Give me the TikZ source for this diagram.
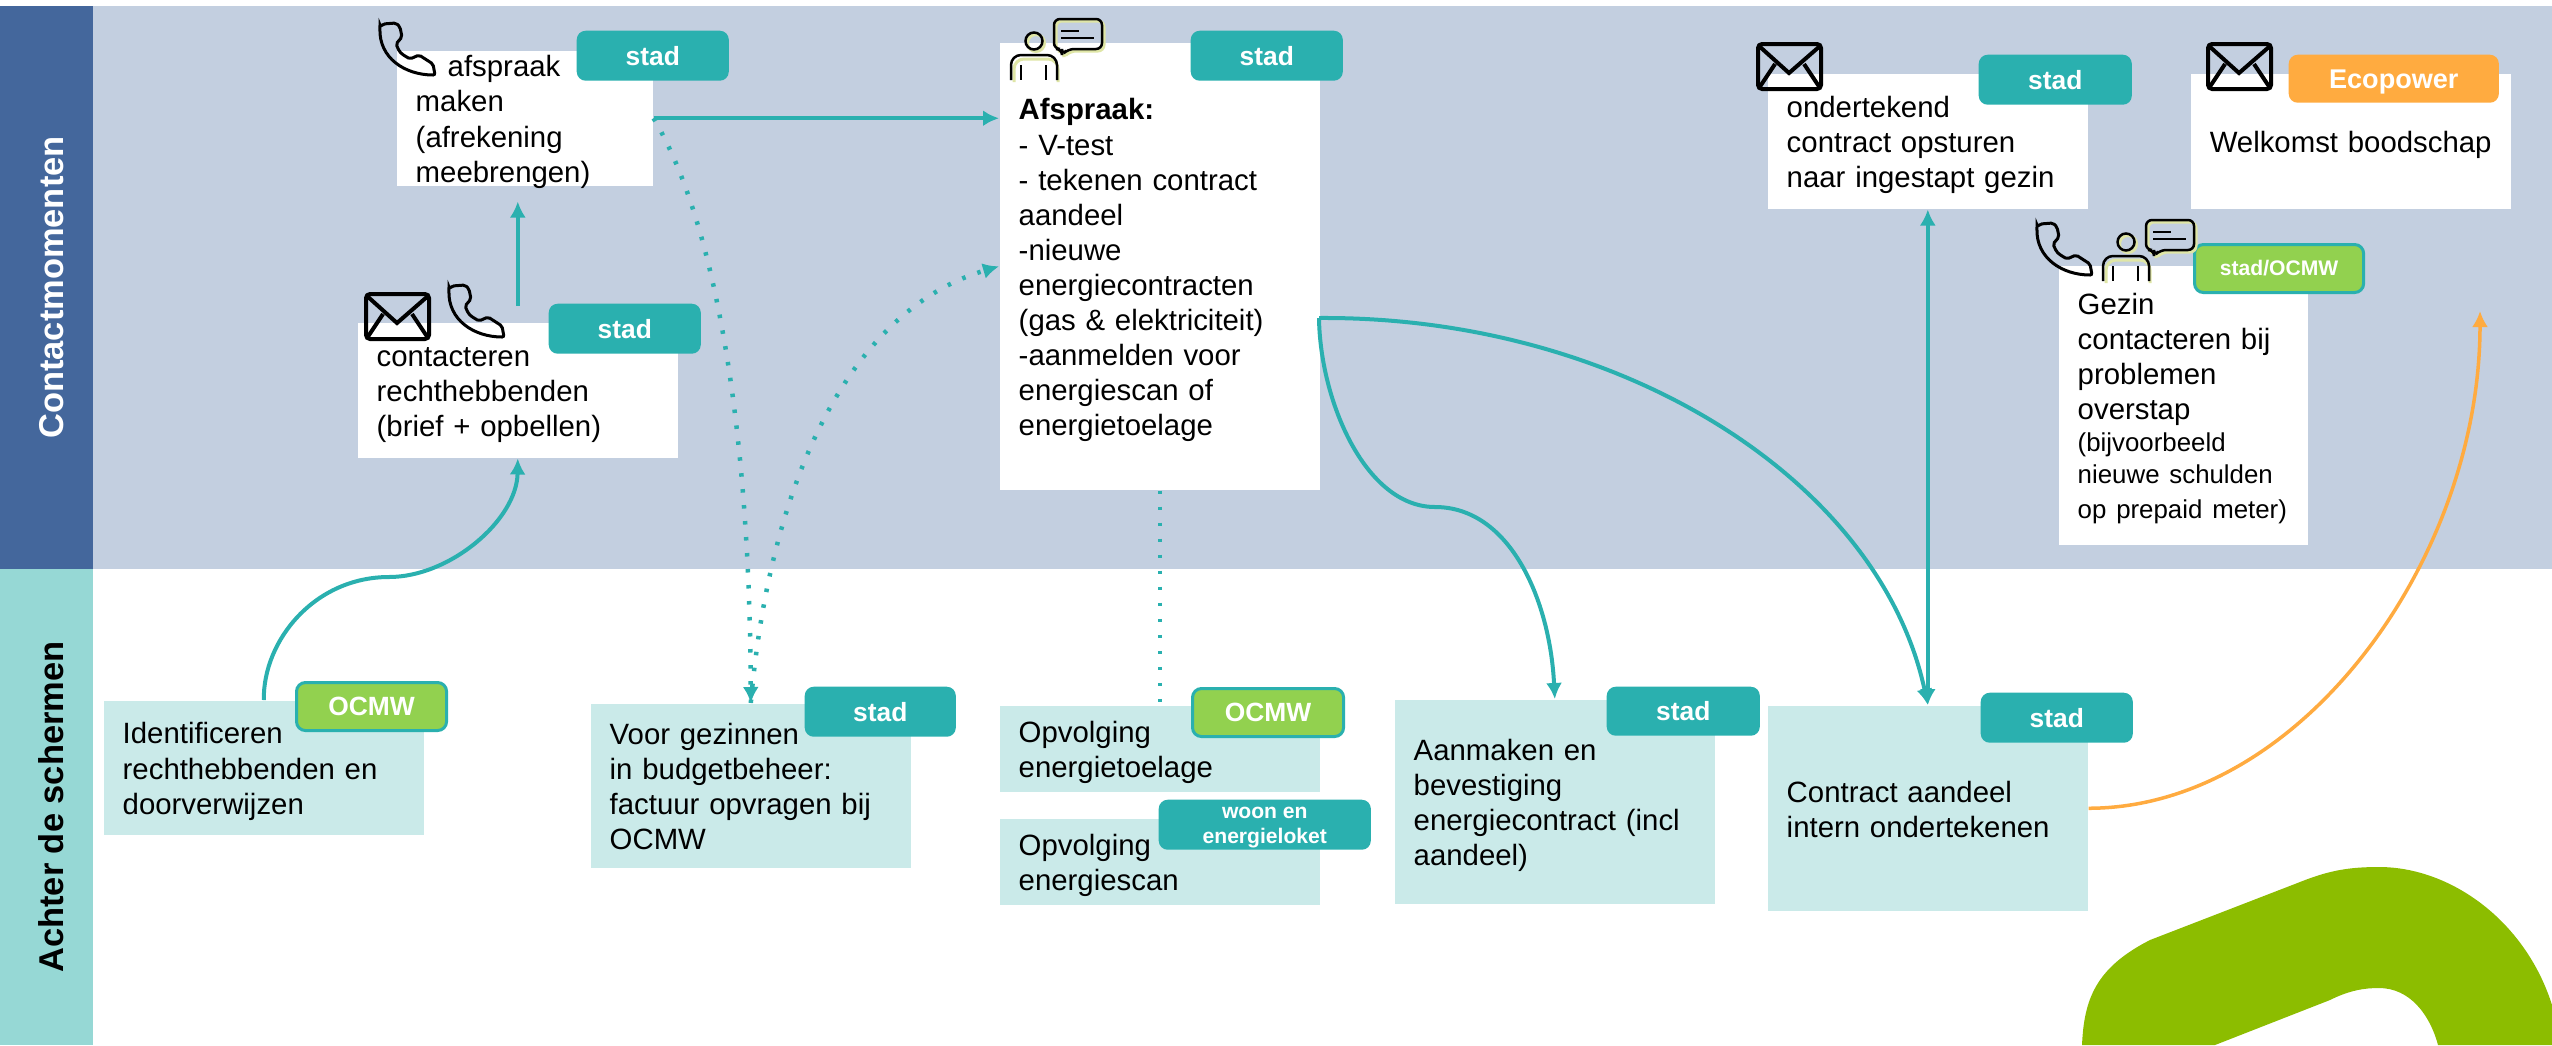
\documentclass[tikz,border=0pt]{standalone}
\usepackage{amsmath}
\usepackage{fontspec}
\setmainfont{Liberation Sans}
\usepackage{tikz}
\usetikzlibrary{calc,positioning,arrows.meta}

\definecolor{bandblue}{HTML}{44679C}
\definecolor{bandpale}{HTML}{C3CFE0}
\definecolor{bandteal}{HTML}{96D8D5}
\definecolor{cardteal}{HTML}{CAEAE9}
\definecolor{stadteal}{HTML}{2AB0AF}
\definecolor{ocmwgreen}{HTML}{92D14F}
\definecolor{ecoorange}{HTML}{FFAB40}
\definecolor{logogreen}{HTML}{8CBD00}
\definecolor{iconshade}{HTML}{DFE6A6}

\newcommand{\kleintje}{\fontsize{7.35pt}{9.1pt}\selectfont}

\tikzset{
	card/.style 2 args={anchor=north west,inner xsep=.19cm,inner ysep=-3pt,minimum width=#1cm,minimum height=#2cm,text width=#1cm-.38cm,align=left,font=\fontsize{8.35pt}{9.96pt}\selectfont,execute at begin node={\rule{0pt}{8.2pt}},execute at end node={\rule[-1.8pt]{0pt}{1.8pt}}},
	frontcard/.style 2 args={card={#1}{#2},fill=white},
	backcard/.style 2 args={card={#1}{#2},fill=cardteal},
	badge/.style 2 args={anchor=north west,inner sep=0pt,minimum width=#1cm,minimum height=#2cm,rounded corners=.09cm,align=center,text=white,font=\fontsize{7.5pt}{9pt}\selectfont\bfseries},
	stadbadge/.style 2 args={badge={#1}{#2},fill=stadteal},
	ocmwbadge/.style 2 args={badge={#1}{#2},fill=ocmwgreen,draw=stadteal,line width=.03cm},
	ecobadge/.style 2 args={badge={#1}{#2},fill=ecoorange},
	sideband/.style={rotate=90,inner sep=0pt,minimum height=.93cm,text height=9.6pt,text depth=0pt,font=\fontsize{9.8pt}{12pt}\selectfont\bfseries},
	flow/.style={-{Latex[length=.16cm,width=.16cm]},color=stadteal,line width=.04cm},
	dotflow/.style={flow,line width=.045cm,dash pattern=on .035cm off .125cm},
	mailicon/.pic={
		\draw[line width=.04cm,rounded corners=.04cm] (0,0) rectangle (63,45);
		\draw[line width=.04cm] (1,2) -- (31,29) -- (62,2) (17,20) -- (1,44) (46,20) -- (62,44);
	},
	phoneicon/.pic={
		\draw[line width=.03cm,rounded corners=.02cm] (0,4) -- (3,1) -- (16,0) -- (20,4) -- (22,14) -- (16,21) .. controls (20,30) .. (30,36) -- (39,32) -- (53,41) -- (55,52) .. controls (25,52) and (-1,35) .. (0,4) -- cycle;
	},
	talkicon/.pic={
		\begin{scope}[shift={(2,2)},color=iconshade,line width=.03cm]
			\draw (0,0) circle[radius=8.5];
			\draw[rounded corners=.1cm] (-22,39) -- (-22,16) -- (22,16) -- (22,39);
			\draw[rounded corners=.06cm] (20,-22) -- (68,-22) -- (68,8) -- (34,8) -- (28,14) -- (28,8) -- (20,8) -- cycle;
		\end{scope}
		\draw[line width=.025cm] (0,0) circle[radius=8.5];
		\draw[line width=.025cm,rounded corners=.1cm] (-23,39) -- (-23,14) -- (23,14) -- (23,39);
		\draw[line width=.025cm] (-13,24) -- (-13,39) (12,24) -- (12,39);
		\draw[line width=.025cm,rounded corners=.06cm] (20,-22) -- (68,-22) -- (68,8) -- (34,8) -- (28,14) -- (28,8) -- (20,8) -- cycle;
		\draw[line width=.025cm] (27,-10) -- (45,-10) (27,-3) -- (60,-3);
	},
}

\begin{document}
\begin{tikzpicture}[x=.01cm,y=-.01cm]
	\useasboundingbox (0,0) rectangle (2552,1045);

	\fill[bandpale] (93,6) rectangle (2552,569);
	\node[sideband,fill=bandblue,text=white,minimum width=5.63cm] (contactband) at (46.5,287.5) {Contactmomenten};
	\node[sideband,fill=bandteal,text=black,minimum width=4.76cm] (achterband) at (46.5,807) {Achter de schermen};

	\fill[logogreen] (2082,1045) .. controls (2084,1000) and (2095,968) .. (2150,940) -- (2300,882) .. controls (2330,870) and (2350,867) .. (2379,867) .. controls (2450,867) and (2525,920) .. (2552,1005) -- (2552,1045) -- (2438,1045) .. controls (2430,1015) and (2410,988) .. (2379,988) .. controls (2365,988) and (2350,990) .. (2330,1000) -- (2215,1045) -- cycle;

	\node[frontcard={2.56}{1.35}] (maken) at (396,50) {\hspace*{.32cm}afspraak\\maken\\(afrekening\\meebrengen)};
	\node[frontcard={3.2}{1.35}] (contacteren) at (357,322) {contacteren\\rechthebbenden\\(brief + opbellen)};
	\node[frontcard={3.2}{4.47}] (afspraak) at (999,42) {\textbf{Afspraak:}\\- V-test\\- tekenen contract\\aandeel\\-nieuwe\\energiecontracten\\(gas \& elektriciteit)\\-aanmelden voor\\energiescan of\\energietoelage};
	\node[frontcard={3.2}{1.35}] (ondertekend) at (1767,73) {ondertekend\\contract opsturen\\naar ingestapt gezin};
	\node[frontcard={3.2}{1.35}] (welkomst) at (2190,73) {\mbox{Welkomst boodschap}};
	\node[frontcard={2.49}{2.79}] (gezin) at (2058,265) {Gezin\\contacteren bij\\problemen\\overstap\par\kleintje (bijvoorbeeld\\nieuwe schulden\\op prepaid meter)};

	\node[backcard={3.2}{1.34}] (identificeren) at (103,700) {Identificeren\\rechthebbenden en\\doorverwijzen};
	\node[backcard={3.2}{1.64}] (voor) at (590,703) {Voor gezinnen\\in budgetbeheer:\\factuur opvragen bij\\OCMW};
	\node[backcard={3.2}{.86}] (toelage) at (999,705) {Opvolging\\energietoelage};
	\node[backcard={3.2}{.86}] (scan) at (999,818) {Opvolging\\energiescan};
	\node[backcard={3.2}{2.04}] (aanmaken) at (1394,699) {Aanmaken en\\bevestiging\\energiecontract (incl\\aandeel)};
	\node[backcard={3.2}{2.05}] (aandeel) at (1767,705) {Contract aandeel\\intern ondertekenen};

	\node[stadbadge={1.52}{.5}] (makenstad) at (576,30) {stad};
	\node[stadbadge={1.52}{.5}] (contacterenstad) at (548,303) {stad};
	\node[stadbadge={1.52}{.5}] (afspraakstad) at (1190,30) {stad};
	\node[stadbadge={1.53}{.5}] (ondertekendstad) at (1978,54) {stad};
	\node[ecobadge={2.1}{.48},text depth=0pt,font=\fontsize{7.7pt}{9pt}\selectfont\bfseries] (welkomsteco) at (2288,54) {Ecopower};
	\node[ocmwbadge={1.69}{.48},font=\fontsize{6pt}{7pt}\selectfont\bfseries] (gezinstad) at (2193,243) {stad/OCMW};
	\node[ocmwbadge={1.5}{.48}] (identificerenocmw) at (295,681) {OCMW};
	\node[stadbadge={1.51}{.5}] (voorstad) at (804,686) {stad};
	\node[ocmwbadge={1.51}{.48}] (toelageocmw) at (1191,687) {OCMW};
	\node[stadbadge={2.12}{.5},font=\fontsize{6pt}{7.1pt}\selectfont\bfseries] (scanloket) at (1158,799) {\rule{0pt}{4.8pt}woon en\\energieloket};
	\node[stadbadge={1.53}{.49}] (aanmakenstad) at (1606,686) {stad};
	\node[stadbadge={1.52}{.5}] (aandeelstad) at (1980,692) {stad};

	\pic at (380,23) {phoneicon};
	\pic at (366,294) {mailicon};
	\pic at (449,285) {phoneicon};
	\pic at (1034,41) {talkicon};
	\pic at (1758,44) {mailicon};
	\pic at (2208,44) {mailicon};
	\pic at (2037,223) {phoneicon};
	\pic at (2126,242) {talkicon};

	\coordinate (afspraakuit) at (1319,318);
	\coordinate (welkomstin) at (2480,311);

	\draw[flow,shorten <=.16cm,shorten >=.15cm] (contacteren.north) -- (contacteren.north |- maken.south);
	\draw[flow] (identificeren.north) .. controls (263,640) and (315,577) .. (389,577) .. controls (450,577) and (517,520) .. (contacteren.south);
	\draw[flow] (maken.east) -- (maken.east -| afspraak.west);
	\draw[dotflow] (maken.east) .. controls (720,230) and (750,450) .. (voor.north);
	\draw[dotflow] (voor.north) .. controls (770,480) and (850,310) .. (afspraak.west);
	\draw[dotflow,-] (afspraak.south) -- (toelage.north);
	\draw[flow] (afspraakuit) .. controls (1320,400) and (1365,507) .. (1435,507) .. controls (1510,507) and (1550,600) .. (aanmaken.north);
	\draw[flow] (afspraakuit) .. controls (1620,316) and (1880,480) .. (aandeel.north);
	\draw[flow,{Latex[length=.16cm,width=.16cm]}-{Latex[length=.16cm,width=.16cm]}] (ondertekend.south) -- (aandeel.north);
	\draw[flow,color=ecoorange,line width=.035cm] (aandeel.east) .. controls (2300,808) and (2480,560) .. (welkomstin);
\end{tikzpicture}
\end{document}
